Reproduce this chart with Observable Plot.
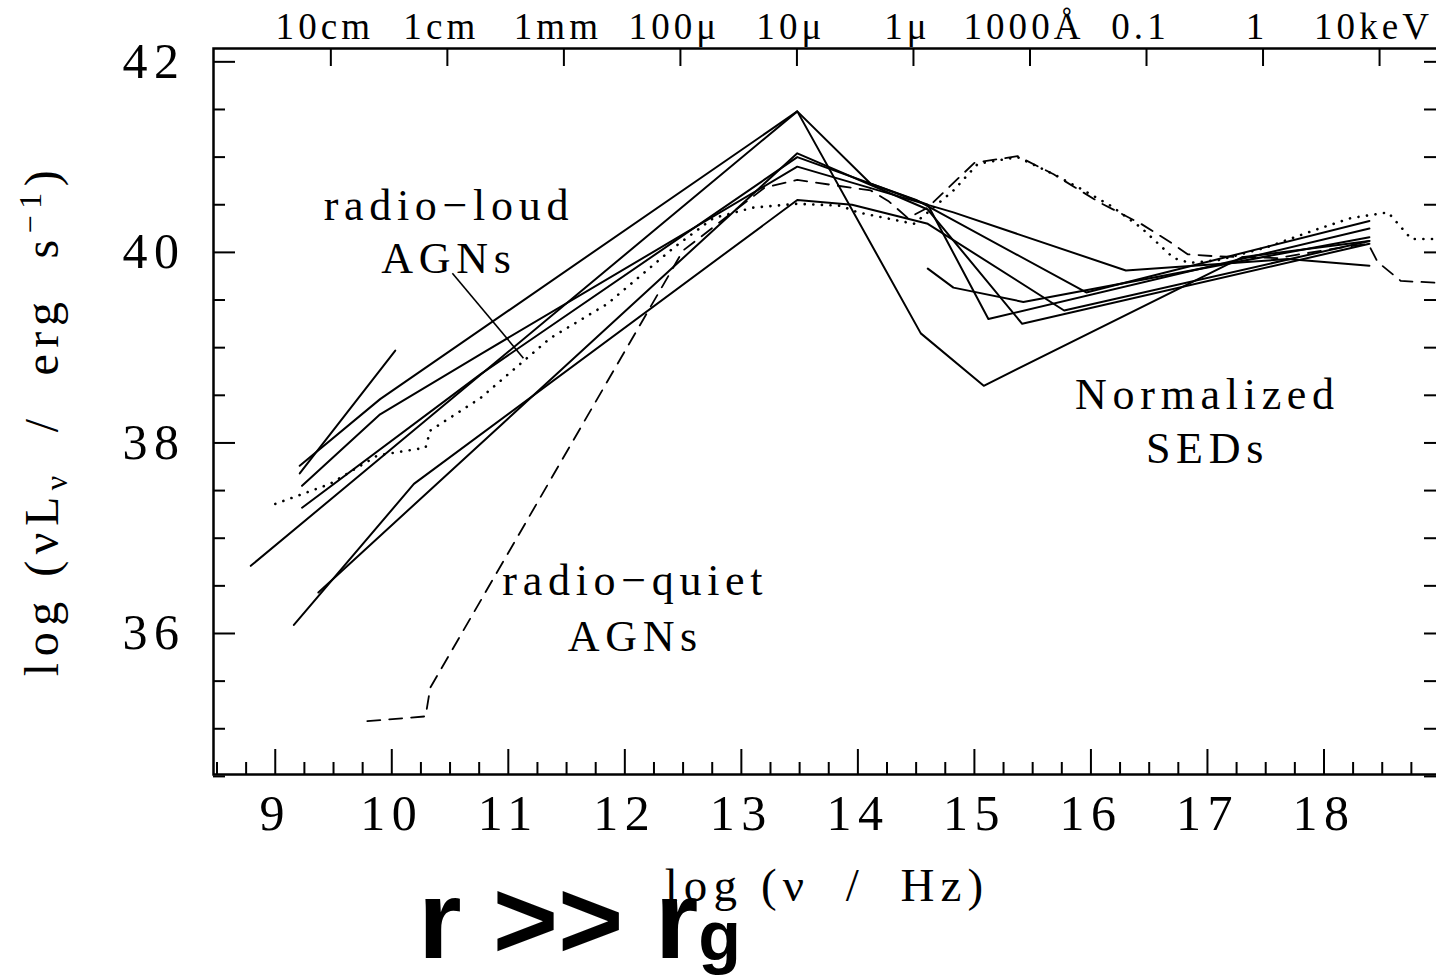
<!DOCTYPE html>
<html><head><meta charset="utf-8">
<script src="https://cdn.jsdelivr.net/npm/d3@7"></script>
<script src="https://cdn.jsdelivr.net/npm/@observablehq/plot@0.6"></script>
<style>
html,body{margin:0;padding:0;background:#fff;overflow:hidden;}
#chart{position:relative;width:1436px;height:980px;overflow:hidden;background:#fff;}
#chart svg{max-width:none !important;display:block;}
</style></head><body><div id="chart"></div>
<script>
// ---- data: log(nu/Hz), log(nuL_nu) ----
const loud1 = [[8.79,36.71],[13.48,41.48],[14.54,39.15],[15.08,38.60],[17.3,39.95],[18.39,40.12]];
const loud2 = [[9.21,37.76],[9.9,38.46],[13.48,41.48],[14.11,40.72],[14.6,40.5],[15.12,39.30],[18.39,40.25]];
const loud3 = [[9.37,36.43],[13.48,41.04],[14.6,40.45],[15.41,39.25],[18.39,40.09]];
const loud4 = [[9.23,37.32],[10.76,38.72],[13.48,41.0],[14.5,40.55],[15.96,39.58],[18.39,40.33]];
const loud5 = [[9.23,37.55],[9.9,38.30],[10.76,38.93],[13.48,40.9],[14.82,40.42],[16.30,39.81],[17.69,39.93],[18.39,39.86]];
const loud6 = [[9.16,36.09],[10.19,37.57],[13.48,40.55],[13.95,40.5],[14.6,40.3],[15.77,39.39],[18.39,40.12]];
const loud7 = [[14.6,39.83],[14.82,39.63],[15.42,39.48],[18.39,40.16]];
const loud8 = [[9.21,37.68],[10.03,38.97]];
const dottedSED = [[9.0,37.36],[9.47,37.57],[9.88,37.87],[10.29,37.95],[10.33,38.13],[10.76,38.47],[11.36,39.1],[11.85,39.46],[12.42,40.05],[12.76,40.36],[13.1,40.47],[13.48,40.51],[13.85,40.49],[14.0,40.42],[14.48,40.30],[14.6,40.42],[14.82,40.65],[15.03,40.93],[15.37,41.0],[15.68,40.82],[15.94,40.65],[16.17,40.49],[16.43,40.26],[16.71,39.94],[16.85,39.89],[17.1,39.92],[17.5,40.05],[17.91,40.23],[18.23,40.36],[18.55,40.42],[18.75,40.14],[19.0,40.14]];
const quietSED = [[9.79,35.08],[10.29,35.13],[10.33,35.43],[12.5,40.02],[13.2,40.68],[13.48,40.76],[14.11,40.65],[14.26,40.54],[14.43,40.36],[14.6,40.47],[15.0,40.94],[15.37,41.01],[15.68,40.82],[16.08,40.52],[16.43,40.30],[16.69,40.10],[16.83,39.98],[17.06,39.96],[17.6,39.94],[18.09,40.04],[18.38,40.09],[18.46,39.9],[18.66,39.70],[19.0,39.68]];

// ---- ticks & labels ----
const xMajorTicks = [9,10,11,12,13,14,15,16,17,18,19];
const xTickLabels = ["9","10","11","12","13","14","15","16","17","18"];
const xMinorTicks = [8.5,8.75,9.25,9.5,9.75,10.25,10.5,10.75,11.25,11.5,11.75,12.25,12.5,12.75,13.25,13.5,13.75,14.25,14.5,14.75,15.25,15.5,15.75,16.25,16.5,16.75,17.25,17.5,17.75,18.25,18.5,18.75];
const topTickPos = [9.477,10.477,11.477,12.477,13.477,14.477,15.477,16.477,17.477,18.477];
const topTickLabels = ["10cm","1cm","1mm","100μ","10μ","1μ","1000Å","0.1","1","10keV"];
const yMajorTicks = [36,38,40,42];
const yTickLabels = ["36","38","40","42"];
const yMinorTicks = [34.5,35,35.5,36.5,37,37.5,38.5,39,39.5,40.5,41,41.5];
const annoX = [10.49,10.49,17.0,17.0,12.09,12.09];
const annoY = [40.49,39.93,38.50,37.94,36.55,35.96];
const annoText = ["radio−loud","AGNs","Normalized","SEDs","radio−quiet","AGNs"];
const leaderX = [10.52,11.13];
const leaderY = [39.78,38.89];

// ---- build ----
const W = 1445, H = 980, mL = 213, mR = 5, mT = 48, mB = 206;
const innerW = W - mL - mR, innerH = H - mT - mB;
const toRows = (arr) => arr.flatMap((s, i) => s.map(([x, y]) => ({id: i, x, y})));
const solidRows = toRows([loud1, loud2, loud3, loud4, loud5, loud6, loud7, loud8]);
const dottedRows = toRows([dottedSED]);
const dashedRows = toRows([quietSED]);
const annos = annoText.map((t, i) => ({x: annoX[i], y: annoY[i], t}));
const serif = "'Liberation Serif', 'Times New Roman', serif";

const plot = Plot.plot({
  width: W, height: H,
  marginLeft: mL, marginRight: mR, marginTop: mT, marginBottom: mB,
  x: {domain: [8.47, 19.0], axis: null},
  y: {domain: [34.52, 42.14], axis: null},
  style: {fontFamily: serif, background: "white", color: "black", overflow: "visible", maxWidth: "none"},
  marks: [
    Plot.ruleX(xMajorTicks, {x: d => d, insetTop: innerH - 25, stroke: "black", strokeWidth: 2}),
    Plot.ruleX(xMinorTicks, {x: d => d, insetTop: innerH - 12, stroke: "black", strokeWidth: 2}),
    Plot.ruleX(topTickPos, {x: d => d, insetBottom: innerH - 18, stroke: "black", strokeWidth: 2}),
    Plot.ruleY(yMajorTicks, {y: d => d, insetRight: innerW - 22, stroke: "black", strokeWidth: 2}),
    Plot.ruleY(yMinorTicks, {y: d => d, insetRight: innerW - 12, stroke: "black", strokeWidth: 2}),
    Plot.ruleY(yMajorTicks.concat(yMinorTicks), {y: d => d, insetLeft: innerW - 16, stroke: "black", strokeWidth: 2}),
    Plot.frame({stroke: "black", strokeWidth: 2.5}),
    Plot.line(solidRows, {x: "x", y: "y", z: "id", stroke: "black", strokeWidth: 2}),
    Plot.line(dottedRows, {x: "x", y: "y", z: "id", stroke: "black", strokeWidth: 2.6, strokeDasharray: "0.1,8.5", strokeLinecap: "round"}),
    Plot.line(dashedRows, {x: "x", y: "y", z: "id", stroke: "black", strokeWidth: 1.8, strokeDasharray: "13,9"}),
    Plot.link([0], {x1: () => leaderX[0], y1: () => leaderY[0], x2: () => leaderX[1], y2: () => leaderY[1], stroke: "black", strokeWidth: 1.6}),
    Plot.text(xTickLabels, {x: d => +d, frameAnchor: "bottom", dy: 39, lineAnchor: "middle", text: d => d, fontSize: 50}),
    Plot.text(yTickLabels, {y: d => +d, frameAnchor: "left", dx: -28, textAnchor: "end", lineAnchor: "middle", text: d => d, fontSize: 50}),
    Plot.text(topTickLabels, {x: (d, i) => topTickPos[i], frameAnchor: "top", dx: -6, dy: -21, lineAnchor: "middle", text: d => d, fontSize: 37}),
    Plot.text(annos, {x: "x", y: "y", text: "t", fontSize: 44, lineAnchor: "middle"}),
    Plot.text(["log\u00a0(ν\u00a0\u00a0/\u00a0\u00a0Hz)"], {frameAnchor: "bottom", dy: 111, lineAnchor: "middle", text: d => d, fontSize: 47})
  ]
});

// letter spacing to mimic the wide plotting font
d3.select(plot).selectAll("g[aria-label='text']").each(function () {
  const fs = parseFloat(this.getAttribute("font-size")) || 40;
  const k = fs < 40 ? 0.11 : 0.13;
  d3.select(this).style("letter-spacing", (fs * k).toFixed(1) + "px");
});

const svg = d3.select(plot);
// y-axis label with sub/superscript
const yl = svg.append("text")
  .attr("transform", "translate(58,420) rotate(-90)")
  .attr("text-anchor", "middle")
  .attr("font-family", serif).attr("font-size", 48)
  .style("letter-spacing", "6.5px");
yl.append("tspan").text("log\u00a0(νL");
yl.append("tspan").attr("font-size", 32).attr("dy", 9).text("ν");
yl.append("tspan").attr("dy", -9).text("\u00a0\u00a0/\u00a0\u00a0erg\u00a0\u00a0s");
yl.append("tspan").attr("font-size", 32).attr("dy", -17).text("−1");
yl.append("tspan").attr("dy", 17).text(")");

// overlay text
const ov = svg.append("text")
  .attr("x", 418).attr("y", 958)
  .attr("text-anchor", "start")
  .attr("font-family", "'Liberation Sans', Arial, sans-serif")
  .attr("font-weight", "bold").attr("font-size", 112).attr("fill", "black");
ov.append("tspan").text("r >> r");
ov.append("tspan").attr("font-size", 70).attr("dy", 2).text("g");

document.getElementById("chart").appendChild(plot);
</script></body></html>
